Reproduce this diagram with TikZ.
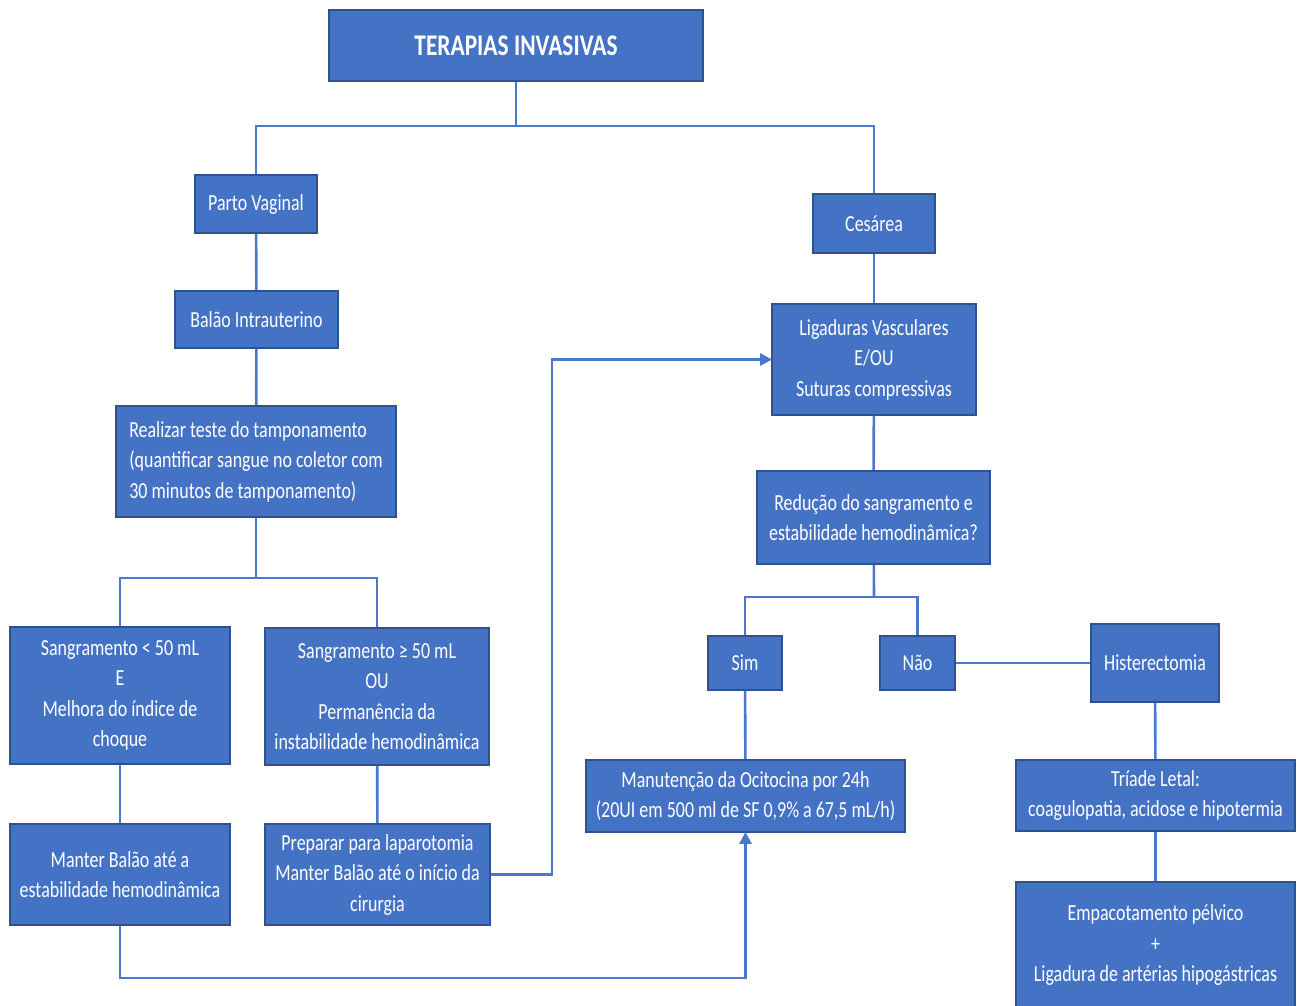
\documentclass[tikz,border=0pt]{standalone}
\usepackage{fontspec}
\setmainfont{Carlito}[FakeStretch=0.78]
\usetikzlibrary{arrows.meta, positioning}
\definecolor{azul}{HTML}{4472C4}
\definecolor{borda}{HTML}{2F528F}
\definecolor{linha}{HTML}{4A78CC}
\tikzset{
  caixa/.style={draw=borda, fill=azul, text=white, line width=1.8pt, align=center,
    inner sep=0pt, font=\fontsize{23}{30.5}\selectfont},
  liga/.style={draw=linha, line width=2.6pt},
  seta/.style={liga, -{Triangle[length=12pt, width=12pt]}, shorten >=-1pt}
}

\begin{document}
\begin{tikzpicture}[x=1pt, y=-1pt]
  \useasboundingbox (0,0) rectangle (1298,1005);
  % ramo esquerdo
  \node[caixa, minimum width=374pt, minimum height=71pt, font=\fontsize{30}{34}\selectfont\bfseries] (titulo) at (516,45.5) {TERAPIAS INVASIVAS};
  \node[caixa, minimum width=122pt, minimum height=58pt] (parto) at (256,204) {Parto Vaginal};
  \node[caixa, minimum width=163pt, minimum height=57pt] (balao) at (256.5,319.5) {Balão Intrauterino};
  \node[caixa, minimum width=280pt, minimum height=111pt, align=left] (teste) at (256,461.5)
    {Realizar teste do tamponamento\\(quantificar sangue no coletor com\\30 minutos de tamponamento)};
  \node[caixa, minimum width=220pt, minimum height=137pt] (menor) at (120,695.5)
    {Sangramento < 50 mL\\E\\Melhora do índice de\\choque};
  \node[caixa, minimum width=224pt, minimum height=137pt] (maior) at (377,696.5)
    {Sangramento ≥ 50 mL\\OU\\Permanência da\\instabilidade hemodinâmica};
  \node[caixa, minimum width=220pt, minimum height=101pt] (manter) at (120,874.5)
    {Manter Balão até a\\estabilidade hemodinâmica};
  \node[caixa, minimum width=225pt, minimum height=101pt] (preparar) at (377.5,874.5)
    {Preparar para laparotomia\\Manter Balão até o início da\\cirurgia};
  % ramo direito
  \node[caixa, minimum width=122pt, minimum height=59pt] (cesarea) at (874,223.5) {Cesárea};
  \node[caixa, minimum width=204pt, minimum height=111pt] (ligaduras) at (874,359.5)
    {Ligaduras Vasculares\\E/OU\\Suturas compressivas};
  \node[caixa, minimum width=233pt, minimum height=93pt] (reducao) at (873.5,517.5)
    {Redução do sangramento e\\estabilidade hemodinâmica?};
  \node[caixa, minimum width=74pt, minimum height=54pt] (sim) at (745,663) {Sim};
  \node[caixa, minimum width=75pt, minimum height=54pt] (nao) at (917.5,663) {Não};
  \node[caixa, minimum width=128pt, minimum height=78pt] (histerectomia) at (1155,663) {Histerectomia};
  \node[caixa, minimum width=319pt, minimum height=72pt] (manutencao) at (745.5,796)
    {Manutenção da Ocitocina por 24h\\(20UI em 500 ml de SF 0,9\% a 67,5 mL/h)};
  \node[caixa, minimum width=279pt, minimum height=71pt] (triade) at (1155.5,795.5)
    {Tríade Letal:\\coagulopatia, acidose e hipotermia};
  \node[caixa, minimum width=279pt, minimum height=126pt] (empacotamento) at (1155.5,945)
    {Empacotamento pélvico\\+\\Ligadura de artérias hipogástricas};

  \coordinate (ramo1) at (516,126);
  \coordinate (ramo2) at (256,578);
  \coordinate (ramo3) at (874,597);

  \draw[liga] (titulo) -- (ramo1);
  \draw[liga] (parto.north) |- (ramo1) -| (cesarea.north);
  \draw[liga] (parto) -- (balao);
  \draw[liga] (balao) -- (teste);
  \draw[liga] (teste) -- (ramo2);
  \draw[liga] (menor.north) |- (ramo2) -| (maior.north);
  \draw[liga] (menor) -- (manter);
  \draw[liga] (maior) -- (preparar);
  \draw[seta] (preparar.east) -- ++(61,0) |- (ligaduras.west);
  \draw[seta] (manter.south) -- ++(0,52) -| (manutencao.south);

  \draw[liga] (cesarea) -- (ligaduras);
  \draw[liga] (ligaduras) -- (reducao);
  \draw[liga] (reducao) -- (ramo3);
  \draw[liga] (sim.north) |- (ramo3) -| (nao.north);
  \draw[liga] (sim) -- (manutencao);
  \draw[liga] (nao) -- (histerectomia);
  \draw[liga] (histerectomia) -- (triade);
  \draw[liga] (triade) -- (empacotamento);
\end{tikzpicture}
\end{document}
